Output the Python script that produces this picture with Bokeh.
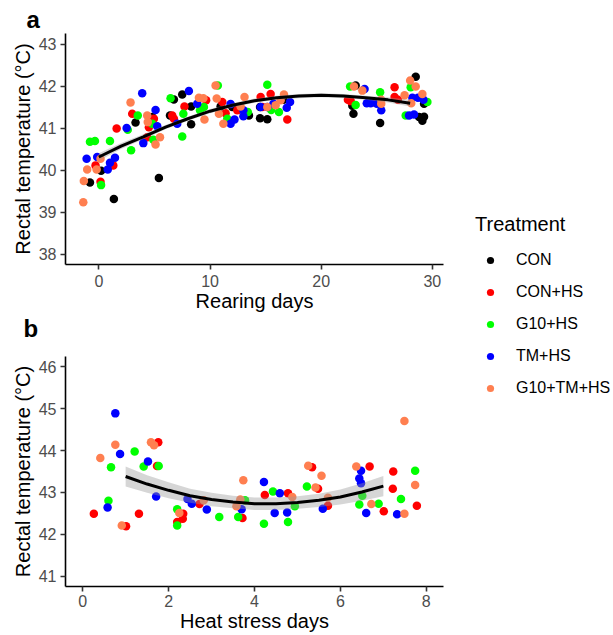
from bokeh.plotting import figure
from bokeh.layouts import row, column
from bokeh.models import Range1d, FixedTicker, Legend, LegendItem, Title
from bokeh.embed import file_html
from bokeh.resources import INLINE

FONT = "Liberation Sans"

treatments = ["CON", "CON+HS", "G10+HS", "TM+HS", "G10+TM+HS"]
colors = ["#000000", "#FF0000", "#00FF00", "#0000FF", "#FF7F50"]

# ---------------- Panel a: rearing days ----------------
a_con_x = [-0.8, 0.2, 1.35, 3.3, 4.8, 5.4, 6.4, 6.75, 7.5, 8.3, 8.3, 10.95, 12.0, 13.5, 14.5, 15.15, 14.5, 16.6,
           22.8, 22.9, 23.1, 25.3, 28.5, 29.25, 28.8, 29.25, 29.1]
a_con_y = [39.70, 39.98, 39.31, 41.13, 41.26, 39.81, 41.30, 41.68, 41.80, 41.09, 41.51, 41.51, 41.50, 41.30, 41.23,
           41.21, 41.50, 41.67, 41.53, 41.34, 42.01, 41.12, 42.22, 41.58, 41.26, 41.27, 41.17]

a_conhs_x = [-0.3, 0.15, 1.3, 1.6, 3.0, 4.5, 4.35, 4.95, 6.6, 6.75, 7.7, 9.65, 11.1, 11.4, 12.45, 14.55, 14.7, 15.45,
             16.95, 22.4, 22.65, 24.8, 26.6, 26.6, 26.9]
a_conhs_y = [40.11, 39.72, 40.11, 40.99, 41.34, 41.02, 40.78, 41.22, 41.30, 41.22, 41.51, 41.66, 41.62, 41.35, 41.42,
             41.74, 41.50, 41.81, 41.20, 41.67, 41.64, 41.61, 41.97, 41.74, 41.67]

a_g10_x = [-0.8, -0.35, 0.2, 1.0, 2.6, 2.9, 3.5, 4.8, 4.9, 6.45, 7.5, 7.6, 9.1, 9.45, 10.7, 11.55, 13.4, 15.15, 15.5,
           16.2, 22.6, 23.1, 25.3, 28.05, 29.55, 27.6]
a_g10_y = [40.67, 40.69, 39.64, 40.69, 40.96, 40.47, 41.30, 41.10, 40.72, 41.71, 40.80, 41.34, 41.42, 41.50, 42.01,
           41.22, 41.38, 42.03, 41.43, 41.38, 41.99, 41.55, 41.85, 41.97, 41.62, 41.30]

a_tm_x = [-1.1, -0.15, 0.8, 1.0, 1.45, 2.5, 3.9, 4.0, 5.1, 5.25, 7.05, 8.1, 8.85, 11.85, 11.85, 12.2, 13.0, 13.0,
          14.55, 15.15, 15.7, 16.9, 17.2, 23.9, 24.1, 24.45, 25.0, 25.4, 28.2, 28.7, 29.2, 27.9, 28.35]
a_tm_y = [40.27, 40.31, 40.01, 40.17, 40.29, 41.00, 41.83, 40.64, 41.43, 41.04, 41.10, 41.88, 41.58, 41.57, 41.10,
          41.20, 41.42, 41.28, 41.50, 41.50, 41.58, 41.48, 41.62, 41.93, 41.59, 41.59, 41.58, 41.42, 41.72, 41.72,
          41.67, 41.30, 41.32]

a_g10tm_x = [-1.4, -1.35, -1.05, -0.2, 0.15, 2.85, 4.35, 4.4, 5.1, 5.5, 9.0, 9.4, 9.5, 10.5, 10.6, 10.8, 11.2, 12.75,
             13.1, 15.15, 15.9, 16.35, 16.65, 22.95, 23.7, 25.4, 25.4, 27.5, 28.0, 28.5, 28.1, 29.1]
a_g10tm_y = [39.23, 39.74, 40.01, 40.01, 40.27, 41.61, 41.30, 41.14, 40.61, 40.78, 41.72, 41.71, 41.20, 42.01, 41.70,
             41.34, 41.10, 41.51, 41.74, 41.50, 41.54, 41.66, 41.80, 41.99, 41.89, 41.67, 41.58, 41.78, 42.13, 41.99,
             41.59, 41.81]

# smoothed trend with its confidence band
a_fit_x = [0, 2, 4, 6, 8, 10, 12, 14, 16, 18, 20, 22, 24, 26, 28]
a_fit_y = [40.31, 40.57, 40.79, 41.02, 41.22, 41.40, 41.54, 41.65, 41.72, 41.76, 41.78, 41.76, 41.72, 41.67, 41.59]
a_fit_lo = [40.22, 40.50, 40.73, 40.97, 41.17, 41.35, 41.49, 41.60, 41.67, 41.71, 41.73, 41.71, 41.67, 41.61, 41.51]
a_fit_hi = [40.40, 40.64, 40.85, 41.07, 41.27, 41.45, 41.59, 41.70, 41.77, 41.81, 41.83, 41.81, 41.77, 41.73, 41.67]

a_xticks = [0, 10, 20, 30]
a_yticks = [38, 39, 40, 41, 42, 43]

# ---------------- Panel b: heat stress days ----------------
b_conhs_x = [0.26, 1.01, 1.31, 1.76, 1.73, 2.20, 2.34, 2.33, 2.72, 3.72, 4.24, 4.78, 5.34, 5.48, 5.71, 6.68, 7.01,
             7.23, 7.22, 7.78]
b_conhs_y = [42.49, 42.19, 42.49, 44.20, 43.63, 42.29, 42.49, 42.37, 42.72, 42.39, 42.94, 42.98, 43.60, 43.09, 42.68,
             43.62, 42.55, 43.50, 43.09, 42.68]

b_g10_x = [0.60, 0.66, 1.21, 1.42, 1.77, 2.20, 2.20, 3.18, 3.62, 3.78, 4.22, 4.43, 4.78, 4.94, 5.22, 6.51, 6.44, 6.89,
           7.41, 7.74]
b_g10_y = [42.80, 43.60, 43.98, 43.62, 43.63, 42.60, 42.21, 42.41, 42.41, 42.81, 42.25, 43.02, 42.29, 42.67, 43.14,
           42.92, 42.71, 42.73, 42.84, 43.52]

b_tm_x = [0.58, 0.76, 0.87, 1.52, 1.71, 2.44, 2.54, 2.89, 3.70, 4.22, 4.47, 4.59, 4.76, 5.59, 6.48, 6.44, 6.48, 6.60,
          7.32]
b_tm_y = [42.64, 44.89, 43.92, 43.74, 42.90, 42.84, 42.73, 42.59, 42.60, 43.25, 42.51, 42.98, 42.52, 42.61, 43.52,
          43.33, 43.22, 42.51, 42.48]

b_g10tm_x = [0.41, 0.76, 0.91, 1.59, 1.66, 2.25, 2.82, 3.58, 3.67, 3.74, 4.88, 5.25, 5.42, 5.56, 5.71, 6.37, 6.72,
             7.49, 7.49, 7.74]
b_g10tm_y = [43.82, 44.14, 42.21, 44.20, 44.13, 42.51, 42.81, 42.67, 42.83, 43.29, 42.89, 43.64, 43.12, 43.40, 42.87,
             43.62, 42.72, 44.71, 42.49, 43.18]

b_fit_x = [1.0, 1.5, 2.0, 2.5, 3.0, 3.5, 4.0, 4.5, 5.0, 5.5, 6.0, 6.5, 7.0]
b_fit_y = [43.38, 43.20, 43.05, 42.92, 42.83, 42.77, 42.73, 42.73, 42.76, 42.81, 42.89, 43.01, 43.15]
b_fit_lo = [43.14, 42.99, 42.86, 42.75, 42.67, 42.62, 42.58, 42.58, 42.61, 42.65, 42.71, 42.80, 42.91]
b_fit_hi = [43.62, 43.41, 43.24, 43.09, 42.99, 42.92, 42.88, 42.88, 42.91, 42.97, 43.07, 43.22, 43.39]

b_xticks = [0, 2, 4, 6, 8]
b_yticks = [41, 42, 43, 44, 45, 46]

y_title = "Rectal temperature (°C)"


def style(p, xticks, yticks, x_standoff):
    p.xaxis.ticker = FixedTicker(ticks=xticks)
    p.yaxis.ticker = FixedTicker(ticks=yticks)
    p.xgrid.visible = False
    p.ygrid.visible = False
    p.outline_line_color = None
    for ax in (p.xaxis[0], p.yaxis[0]):
        ax.axis_line_color = "black"
        ax.axis_line_width = 1.6
        ax.major_tick_line_color = "#333333"
        ax.major_tick_line_width = 1.6
        ax.major_tick_out = 5
        ax.major_tick_in = 0
        ax.minor_tick_line_color = None
        ax.major_label_text_font = FONT
        ax.major_label_text_font_size = "16px"
        ax.major_label_text_color = "#4D4D4D"
        ax.axis_label_text_font = FONT
        ax.axis_label_text_font_size = "20px"
        ax.axis_label_text_font_style = "normal"
        ax.axis_label_text_color = "black"
    p.xaxis[0].major_label_standoff = x_standoff
    p.xaxis[0].axis_label_standoff = 0
    p.yaxis[0].major_label_standoff = 4
    p.yaxis[0].axis_label_standoff = 2


def tag(text, offset, standoff, valign):
    return Title(text=text, align="left", offset=offset, standoff=standoff, vertical_align=valign,
                 text_font=FONT, text_font_size="24px", text_font_style="bold", text_color="black")


def add_points(p, xs, ys, color):
    p.scatter(xs, ys, size=8.5, fill_color=color, line_color=None)


# ---- figure a ----
pa = figure(width=445, height=343, x_range=Range1d(-3.0, 31.0), y_range=Range1d(37.75, 43.25),
            toolbar_location=None, output_backend="svg",
            min_border_left=65, min_border_right=2, min_border_top=33, min_border_bottom=0)
style(pa, a_xticks, a_yticks, 5)
pa.xaxis.axis_label = "Rearing days"
pa.yaxis.axis_label = y_title
pa.title = tag("a", -39, 1, "bottom")
for xs, ys, c in [(a_con_x, a_con_y, colors[0]), (a_conhs_x, a_conhs_y, colors[1]), (a_g10_x, a_g10_y, colors[2]),
                  (a_tm_x, a_tm_y, colors[3]), (a_g10tm_x, a_g10tm_y, colors[4])]:
    add_points(pa, xs, ys, c)
pa.varea(x=a_fit_x, y1=a_fit_lo, y2=a_fit_hi, fill_color="#999999", fill_alpha=0.4)
pa.line(a_fit_x, a_fit_y, line_color="black", line_width=3)
# the "b" tag of the lower panel sits just below the upper panel's axis title
pa.add_layout(tag("b", -42, 0, "top"), "below")

# ---- figure b ----
pb = figure(width=445, height=291, x_range=Range1d(-0.4, 8.4), y_range=Range1d(40.75, 46.25),
            toolbar_location=None, output_backend="svg",
            min_border_left=65, min_border_right=2, min_border_top=13, min_border_bottom=47)
style(pb, b_xticks, b_yticks, 3)
pb.xaxis.axis_label = "Heat stress days"
pb.yaxis.axis_label = y_title
for xs, ys, c in [(b_conhs_x, b_conhs_y, colors[1]), (b_g10_x, b_g10_y, colors[2]),
                  (b_tm_x, b_tm_y, colors[3]), (b_g10tm_x, b_g10tm_y, colors[4])]:
    add_points(pb, xs, ys, c)
pb.varea(x=b_fit_x, y1=b_fit_lo, y2=b_fit_hi, fill_color="#999999", fill_alpha=0.4)
pb.line(b_fit_x, b_fit_y, line_color="black", line_width=3)

# ---- legend figure ----
pl = figure(width=167, height=634, x_range=Range1d(0, 1), y_range=Range1d(0, 1),
            toolbar_location=None, output_backend="svg", min_border=0,
            x_axis_location=None, y_axis_location=None)
pl.grid.visible = False
pl.outline_line_color = None
nan = float("nan")
items = []
for t, c in zip(treatments, colors):
    r = pl.scatter(x=[nan], y=[nan], size=8, fill_color=c, line_color=None)
    items.append(LegendItem(label=t, renderers=[r]))
leg = Legend(items=items, location=(30, 237), title="Treatment",
             title_text_font=FONT, title_text_font_size="20px", title_text_font_style="normal",
             title_text_color="black", title_standoff=15,
             label_text_font=FONT, label_text_font_size="16px", label_text_color="black",
             glyph_width=30, glyph_height=18, label_height=18, label_standoff=11, spacing=14,
             padding=0, margin=0, border_line_color=None, background_fill_alpha=0)
pl.add_layout(leg)

layout = row(column(pa, pb), pl)
open("out.html", "w").write(file_html(layout, INLINE))
